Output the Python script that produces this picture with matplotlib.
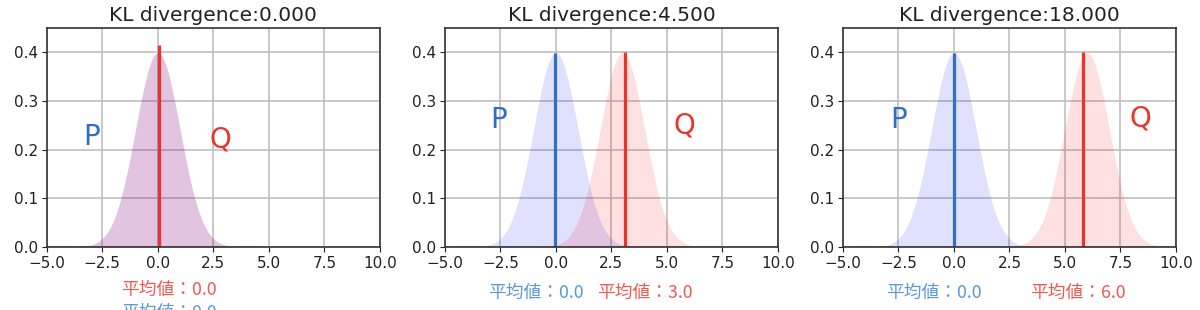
import numpy as np
import matplotlib
matplotlib.use("Agg")
import matplotlib.pyplot as plt

plt.rcParams['font.family'] = ['DejaVu Sans']
JP = ['Noto Sans CJK JP', 'DejaVu Sans']

# パラメータ (P は固定、Q をずらす)
p_means = [0.0, 0.0, 0.0]
q_means = [0.0, 3.0, 6.0]
sigma = 1.0
kl_values = [0.0, 4.5, 18.0]

# 縦線の位置と高さ
p_line_x = [0.05, -0.03, 0.02]
q_line_x = [0.05, 3.12, 5.8]
q_line_top = [0.414, 0.4, 0.4]

# ラベル位置
p_label_xy = [(-3.0, 0.225), (-2.6, 0.26), (-2.5, 0.26)]
q_label_xy = [(2.8, 0.22), (5.8, 0.25), (8.4, 0.265)]
p_mean_label = [(0.5, -0.30), (-0.9, -0.21), (-0.9, -0.21)]
q_mean_label = [(0.5, -0.198), (4.0, -0.21), (5.6, -0.21)]

BLUE = '#2f6fc4'
RED = '#e8352b'


def pdf(x, mu, s):
    return np.exp(-(x - mu) ** 2 / (2 * s ** 2)) / (np.sqrt(2 * np.pi) * s)


fig, axes = plt.subplots(1, 3, figsize=(12, 3.1), dpi=100)
fig.subplots_adjust(left=0.039, right=0.98, bottom=0.203, top=0.91, wspace=0.195)

x = np.linspace(-5, 10, 600)
for i, ax in enumerate(axes):
    yp = pdf(x, p_means[i], sigma)
    yq = pdf(x, q_means[i], sigma)
    ax.fill_between(x, 0, yp, color='blue', alpha=0.12, lw=0)
    ax.fill_between(x, 0, yq, color='red', alpha=0.12, lw=0)
    ax.vlines(p_line_x[i], 0, yp.max(), color=BLUE, lw=2.3)
    ax.vlines(q_line_x[i], 0, q_line_top[i], color=RED, lw=2.3)

    ax.text(*p_label_xy[i], 'P', color=BLUE, fontsize=20, ha='center', va='center')
    ax.text(*q_label_xy[i], 'Q', color=RED, fontsize=20, ha='center', va='center')

    tr = ax.get_xaxis_transform()
    ax.text(p_mean_label[i][0], p_mean_label[i][1], f'平均値：{p_means[i]:.1f}',
            transform=tr, color='#5b9bd5', fontsize=12.8, ha='center', va='center', family=JP)
    ax.text(q_mean_label[i][0], q_mean_label[i][1], f'平均値：{q_means[i]:.1f}',
            transform=tr, color='#f05a55', fontsize=12.8, ha='center', va='center', family=JP)

    ax.set_xlim(-5, 10)
    ax.set_ylim(0, 0.45)
    ax.set_xticks(np.arange(-5, 10.1, 2.5))
    ax.set_yticks([0.0, 0.1, 0.2, 0.3, 0.4])
    ax.grid(True, color='#c0c0c0', lw=1.2)
    ax.set_axisbelow(True)
    for sp in ax.spines.values():
        sp.set_color('#333333')
        sp.set_linewidth(1.2)
    ax.tick_params(labelsize=11, colors='#222222', pad=3)
    ax.set_title(f'KL divergence:{kl_values[i]:.3f}', fontsize=14.5, color='#222222', pad=5)

fig.savefig('out.png', dpi=100)
